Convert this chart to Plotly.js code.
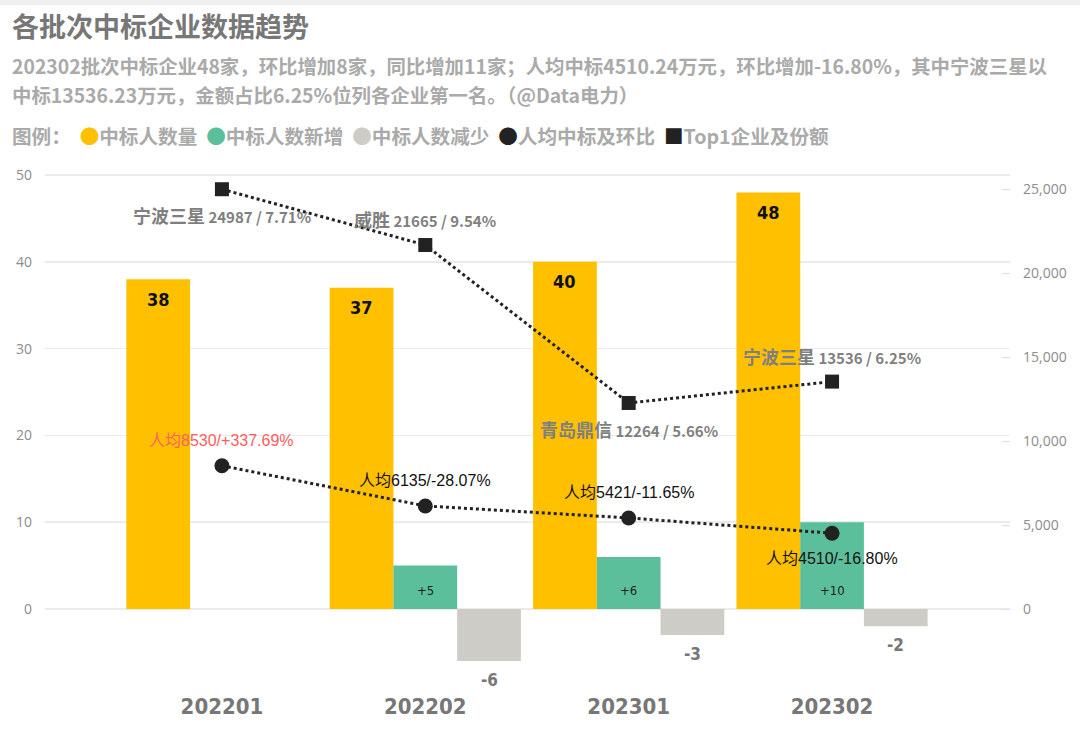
<!DOCTYPE html>
<html><head><meta charset="utf-8">
<script src="https://cdn.plot.ly/plotly-3.0.1.min.js"></script>
<style>
body{margin:0;background:#fff;}
#topbar{position:absolute;left:0;top:0;width:1080px;height:5px;background:#f0f0f0;z-index:5;}
</style>
</head><body>
<div id="topbar"></div>
<div id="chart" style="width:1080px;height:732px;"></div>
<script>
// ---- data ----
const batches = ['202201', '202202', '202301', '202302'];
const winnerCount = [38, 37, 40, 48];
const winnerAdded = [null, 5, 6, 10];
const winnerRemoved = [null, -6, -3, -2];
const avgAmount = [8530, 6135, 5421, 4510];
const avgChange = ['+337.69%', '-28.07%', '-11.65%', '-16.80%'];
const topCompany = ['宁波三星', '威胜', '青岛鼎信', '宁波三星'];
const topAmount = [24987, 21665, 12264, 13536];
const topShare = ['7.71%', '9.54%', '5.66%', '6.25%'];
const leftTicks = [0, 10, 20, 30, 40, 50];
const rightTicks = [0, 5000, 10000, 15000, 20000, 25000];

const titleText = '各批次中标企业数据趋势';
const subtitleLines = [
  '202302批次中标企业48家，环比增加8家，同比增加11家；人均中标4510.24万元，环比增加-16.80%，其中宁波三星以',
  '中标13536.23万元，金额占比6.25%位列各企业第一名。（@Data电力）'
];

// ---- style / layout ----
const W = 1080, H = 732, L = 45, R = 70, T = 170, B = 44;
const plotW = W - L - R, plotH = H - T - B;
const xRange = [-0.87, 3.875];
const bargap = 0.06;
const yRange = [-9.1, 50.58];
const y2Range = [-4702, 26131];
const C = {yellow: '#FFC000', green: '#5CBF9B', gray: '#CDCCC7', dark: '#222222', red: '#FF5E5E'};
const NUM = '"Liberation Sans Narrow", "DejaVu Sans Condensed", "Noto Sans CJK SC", sans-serif';
const CJK = '"Noto Sans CJK SC", "Noto Sans", sans-serif';
const px2paperX = p => (p - L) / plotW;
const px2paperY = p => (H - B - p) / plotH;
const barPx = plotW / (xRange[1] - xRange[0]) * (1 - bargap) / 3;

const topSide = [1, -1, 1, -1];   // 1 = label below marker, -1 = above
const avgSide = [-1, -1, -1, 1];

const traces = [
  {type: 'bar', name: '中标人数量', x: batches, y: winnerCount, marker: {color: C.yellow}},
  {type: 'bar', name: '中标人数新增', x: batches, y: winnerAdded, marker: {color: C.green}},
  {type: 'bar', name: '中标人数减少', x: batches, y: winnerRemoved, marker: {color: C.gray}},
  {type: 'scatter', mode: 'lines+markers', name: '人均中标及环比', x: batches, y: avgAmount, yaxis: 'y2',
   line: {color: C.dark, width: 3, dash: 'dot'}, marker: {symbol: 'circle', size: 15, color: C.dark}},
  {type: 'scatter', mode: 'lines+markers', name: 'Top1企业及份额', x: batches, y: topAmount, yaxis: 'y2',
   line: {color: C.dark, width: 3, dash: 'dot'}, marker: {symbol: 'square', size: 14, color: C.dark}}
];

const ann = [];
// data labels (x given as category index)
batches.forEach((b, i) => {
  ann.push({x: i, y: winnerCount[i], xref: 'x', yref: 'y', xshift: -barPx, yshift: -20,
    text: '<b>' + winnerCount[i] + '</b>', showarrow: false,
    font: {family: NUM, size: 18, color: '#111'}});
  if (winnerAdded[i] !== null) {
    ann.push({x: i, y: 0, xref: 'x', yref: 'y', yshift: 19,
      text: '+' + winnerAdded[i], showarrow: false,
      font: {family: NUM, size: 13, color: '#222'}});
  }
  if (winnerRemoved[i] !== null) {
    ann.push({x: i, y: winnerRemoved[i], xref: 'x', yref: 'y', xshift: barPx, yshift: -19,
      text: '<b>' + winnerRemoved[i] + '</b>', showarrow: false,
      font: {family: NUM, size: 17, color: '#777'}});
  }
  ann.push({x: i, y: topAmount[i], xref: 'x', yref: 'y2', yshift: -26 * topSide[i],
    text: '<b><span style="font-size:18px">' + topCompany[i] +
      '</span> ' + topAmount[i] + ' / ' + topShare[i] + '</b>',
    showarrow: false, font: {family: CJK, size: 15, color: '#7F7F7F'}});
  ann.push({x: i, y: avgAmount[i], xref: 'x', yref: 'y2', yshift: -25 * avgSide[i],
    text: '人均' + avgAmount[i] + '/' + avgChange[i],
    showarrow: false, font: {family: '"Liberation Sans", ' + CJK, size: 16, color: i === 0 ? C.red : '#111'}});
});

// title, subtitle, legend
ann.push({xref: 'paper', yref: 'paper', x: px2paperX(10), y: px2paperY(25), xanchor: 'left', yanchor: 'middle',
  text: '<b>' + titleText + '</b>', showarrow: false, font: {family: CJK, size: 27, color: '#777'}});
subtitleLines.forEach((s, k) => {
  ann.push({xref: 'paper', yref: 'paper', x: px2paperX(10), y: px2paperY(66 + 28 * k), xanchor: 'left', yanchor: 'middle',
    text: '<b>' + s + '</b>', showarrow: false, font: {family: CJK, size: 19.4, color: '#AAAAAA'}});
});
const legendItems = [
  ['●', C.yellow, traces[0].name], ['●', C.green, traces[1].name], ['●', C.gray, traces[2].name],
  ['●', C.dark, traces[3].name], ['■', C.dark, traces[4].name]
];
const legendText = '<b>图例：  ' + legendItems.map(it =>
  '<span style="color:' + it[1] + '">' + it[0] + '</span>' + it[2]).join('  ') + '</b>';
ann.push({xref: 'paper', yref: 'paper', x: px2paperX(10), y: px2paperY(135), xanchor: 'left', yanchor: 'middle',
  text: legendText, showarrow: false, font: {family: CJK, size: 19.6, color: '#AAAAAA'}});

const layout = {
  width: W, height: H,
  margin: {l: L, r: R, t: T, b: B, pad: 0},
  paper_bgcolor: '#fff', plot_bgcolor: '#fff',
  showlegend: false,
  barmode: 'group', bargap: bargap, bargroupgap: 0,
  xaxis: {type: 'category', range: xRange, showgrid: false, zeroline: false, showline: false, ticks: '',
    tickfont: {family: NUM, size: 22, color: '#777'}, ticklabelstandoff: 3,
    tickvals: batches, ticktext: batches.map(b => '<b>' + b + '</b>')},
  yaxis: {range: yRange, tickvals: leftTicks, showgrid: true, gridcolor: '#EBEBEB', gridwidth: 1.5,
    zeroline: true, zerolinecolor: '#EBEBEB', zerolinewidth: 2, showline: false, ticks: '',
    tickfont: {family: '"Open Sans", sans-serif', size: 14, color: '#8C8C8C'}, ticklabelstandoff: 12},
  yaxis2: {overlaying: 'y', side: 'right', range: y2Range, tickvals: rightTicks, tickformat: ',',
    showgrid: false, zeroline: false, showline: false, ticks: 'inside', ticklen: 8, tickcolor: '#E0E0E0',
    tickfont: {family: '"Open Sans", sans-serif', size: 14, color: '#8C8C8C'}, ticklabelstandoff: 12},
  annotations: ann
};

Plotly.newPlot('chart', traces, layout, {displayModeBar: false, staticPlot: true});
</script>
</body></html>
